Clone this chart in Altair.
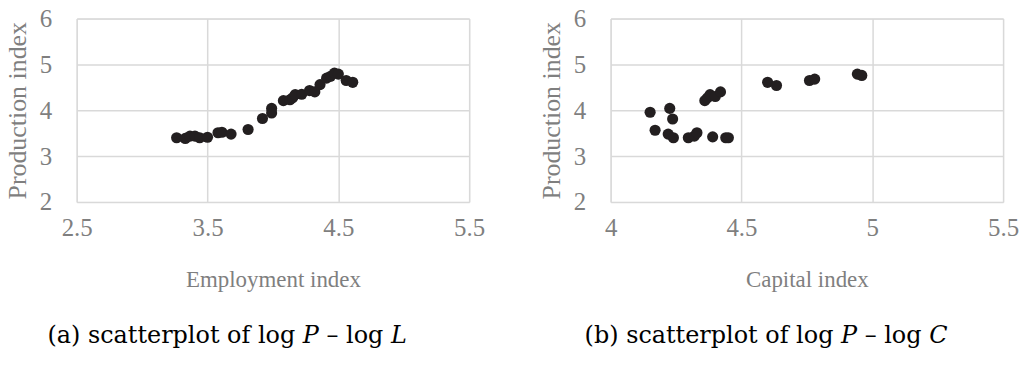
import altair as alt
import pandas as pd

# Left panel: log P vs log L
emp_x = [3.264, 3.33, 3.366, 3.404, 3.44, 3.50, 3.58, 3.61, 3.68, 3.81, 3.92, 3.99, 3.99,
         4.08, 4.13, 4.15, 4.17, 4.22, 4.28, 4.32, 4.36, 4.41, 4.44, 4.47, 4.50, 4.56, 4.61]
emp_y = [3.40, 3.385, 3.435, 3.435, 3.40, 3.41, 3.51, 3.52, 3.48, 3.58, 3.82, 4.04, 3.94,
         4.21, 4.23, 4.27, 4.34, 4.35, 4.43, 4.40, 4.56, 4.70, 4.74, 4.81, 4.79, 4.65, 4.61]

# Right panel: log P vs log C
cap_x = [4.151, 4.17, 4.226, 4.237, 4.22, 4.24, 4.297, 4.32, 4.33, 4.39, 4.44, 4.45,
         4.36, 4.37, 4.38, 4.40, 4.42, 4.60, 4.634, 4.76, 4.78, 4.943, 4.96]
cap_y = [3.957, 3.565, 4.04, 3.81, 3.48, 3.40, 3.40, 3.435, 3.51, 3.42, 3.40, 3.40,
         4.21, 4.27, 4.34, 4.30, 4.40, 4.61, 4.54, 4.65, 4.68, 4.79, 4.76]

left_xticks = [2.5, 3.5, 4.5, 5.5]
right_xticks = [4, 4.5, 5, 5.5]
yticks = [2, 3, 4, 5, 6]

df_l = pd.DataFrame({"x": emp_x, "y": emp_y})
df_r = pd.DataFrame({"x": cap_x, "y": cap_y})

FONT = "Liberation Serif"
CAPFONT = "DejaVu Serif"
GRAY = "#7f7f7f"
GRID = "#d9d9d9"
PT = "#231f20"
LABEL = "format(datum.value, '~g')"


def xaxis(title, values):
    return alt.Axis(
        title=title, values=values, labelExpr=LABEL, grid=True, gridColor=GRID, gridWidth=1.5,
        domain=False, ticks=False, labelFont=FONT, labelFontSize=25, labelColor=GRAY,
        titleFont=FONT, titleFontSize=23, titleColor=GRAY, titleFontWeight="normal",
        labelPadding=14, titlePadding=28, labelFlush=False,
    )


def yaxis():
    return alt.Axis(
        title="Production index", values=yticks, labelExpr=LABEL, grid=True, gridColor=GRID,
        gridWidth=1.5, domain=False, ticks=False, labelFont=FONT, labelFontSize=25,
        labelColor=GRAY, titleFont=FONT, titleFontSize=26, titleColor=GRAY,
        titleFontWeight="normal", labelPadding=25, titlePadding=9, labelFlush=False,
    )


def panel(df, xtitle, xticks, xdom, caption, dx):
    return alt.Chart(df).mark_circle(size=125, color=PT, opacity=1).encode(
        x=alt.X("x:Q", scale=alt.Scale(domain=xdom, nice=False, zero=False),
                axis=xaxis(xtitle, xticks)),
        y=alt.Y("y:Q", scale=alt.Scale(domain=[2, 6], nice=False, zero=False),
                axis=yaxis()),
    ).properties(
        width=394, height=184,
        title=alt.TitleParams(caption, orient="bottom", font=CAPFONT, fontSize=24,
                              color="black", fontWeight="normal", offset=33, dx=dx),
    )


left = panel(df_l, "Employment index", left_xticks, [2.5, 5.5],
             "(a) scatterplot of log 𝑃 – log 𝐿", -46)
right = panel(df_r, "Capital index", right_xticks, [4, 5.5],
              "(b) scatterplot of log 𝑃 – log 𝐶", -41)

chart = alt.hconcat(left, right, spacing=52).properties(
    padding={"left": 4, "top": 5, "right": 5, "bottom": 5}
).configure_view(stroke=None).configure(background="white")

chart.save("out.html", embed_options={"renderer": "svg", "actions": False})
